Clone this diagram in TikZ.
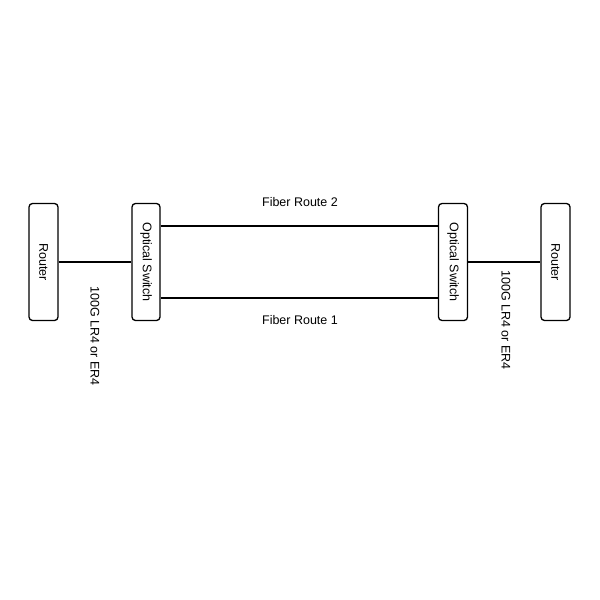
\documentclass[tikz,border=0pt]{standalone}
\usepackage{fontspec}
\setmainfont{Liberation Sans}
\begin{document}
\begin{tikzpicture}[x=1pt,y=-1pt,
  box/.style={draw=black,line width=1.3pt,rounded corners=3.5pt,fill=white,inner sep=0pt},
  lbl/.style={font=\fontsize{12.5}{15}\selectfont,inner sep=0pt},
  wire/.style={draw=black,line width=1.2pt}]
\useasboundingbox[fill=white] (0,0) rectangle (600,600);
\node[box,minimum width=29pt,minimum height=117pt] (r1) at (43.5,262) {};
\node[lbl,rotate=-90] at (r1.center) {Router};
\node[box,minimum width=28pt,minimum height=117pt] (s1) at (146,262) {};
\node[lbl,rotate=-90] at (s1.center) {Optical Switch};
\node[box,minimum width=29pt,minimum height=117pt] (s2) at (453,262) {};
\node[lbl,rotate=-90] at (s2.center) {Optical Switch};
\node[box,minimum width=29pt,minimum height=117pt] (r2) at (555.5,262) {};
\node[lbl,rotate=-90] at (r2.center) {Router};
\draw[wire] (r1.east) -- (s1.west);
\draw[wire] (s2.east) -- (r2.west);
\draw[wire] (s1.east |- 0,226) -- (s2.west |- 0,226);
\draw[wire] (s1.east |- 0,298) -- (s2.west |- 0,298);
\node[lbl] (f2) at (300,202) {Fiber Route 2};
\node[lbl] (f1) at (300,320) {Fiber Route 1};
\node[lbl,rotate=-90] (l1) at (95,336) {100G LR4 or ER4};
\node[lbl,rotate=-90] (l2) at (506,320) {100G LR4 or ER4};
\end{tikzpicture}
\end{document}
